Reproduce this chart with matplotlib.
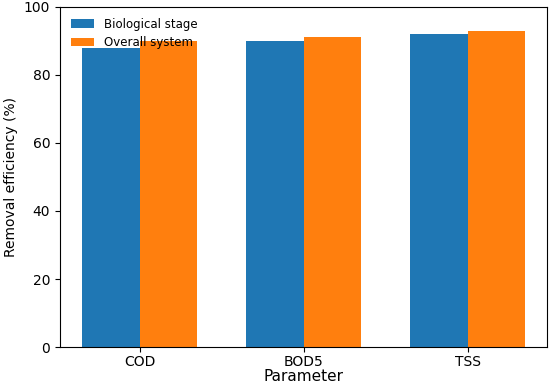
import numpy as np
import matplotlib
matplotlib.use("Agg")
import matplotlib.pyplot as plt

params = ["COD", "BOD5", "TSS"]
biological = [88, 90, 92]
overall = [90, 91.2, 93]

x = np.arange(len(params))
w = 0.35

fig, ax = plt.subplots(figsize=(5.5, 3.86), dpi=100)
fig.subplots_adjust(left=0.109, right=0.995, top=0.982, bottom=0.101)
ax.bar(x - w, biological, w, align="edge", label="Biological stage")
ax.bar(x, overall, w, align="edge", label="Overall system")
ax.set_xticks(x)
ax.set_xticklabels(params)
ax.tick_params(axis="x", pad=2)
ax.set_ylim(0, 100)
ax.set_xlabel("Parameter", fontsize=11, labelpad=0)
ax.set_ylabel("Removal efficiency (%)")
ax.legend(loc="upper left", frameon=False, fontsize=8.5)
fig.savefig("out.png")
